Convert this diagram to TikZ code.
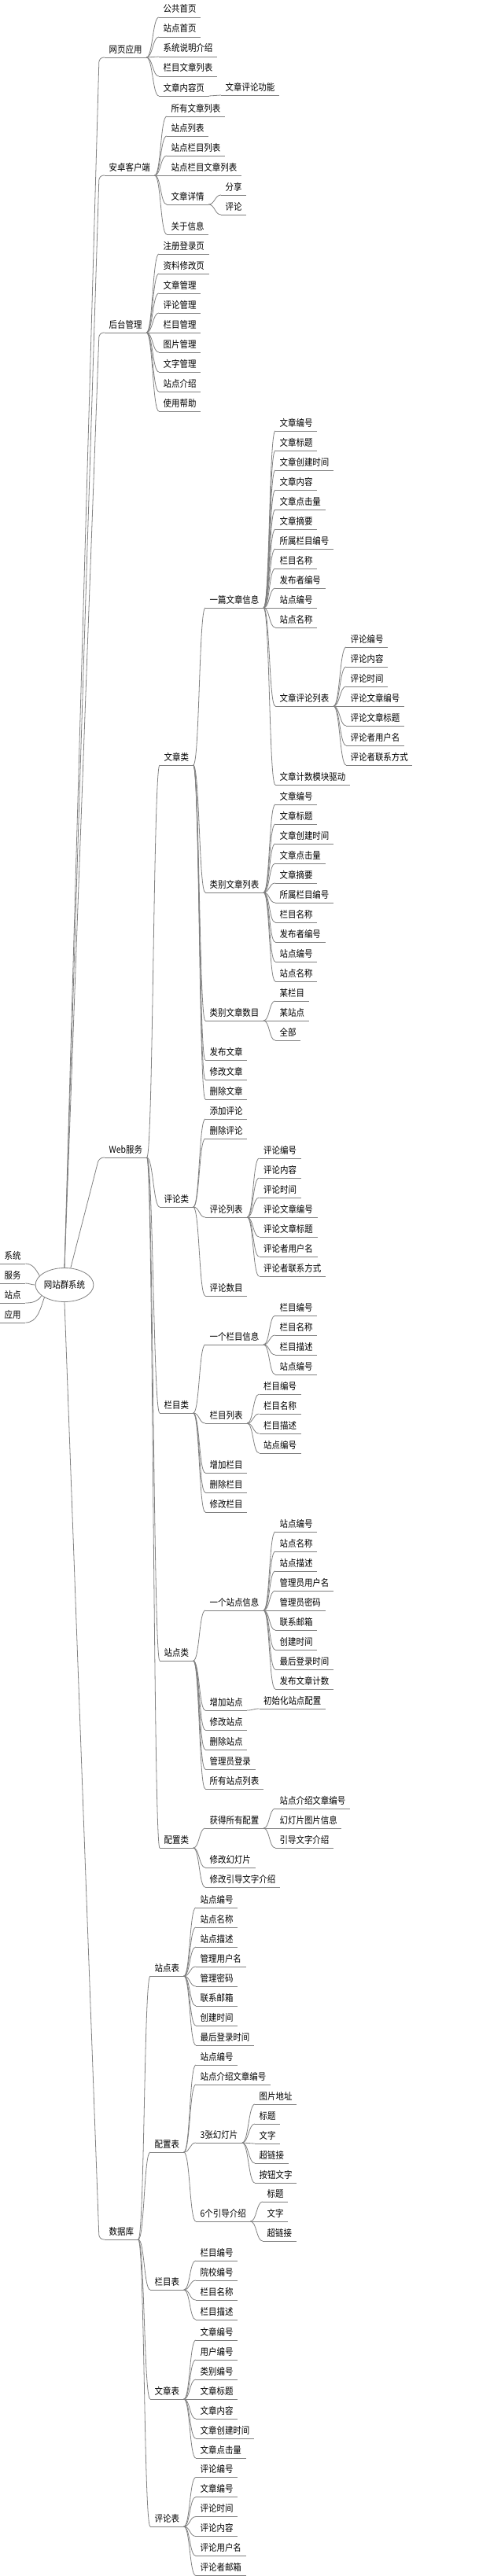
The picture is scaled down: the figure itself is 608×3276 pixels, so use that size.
\documentclass[tikz,border=0pt]{standalone}
\usepackage{fontspec}
\usepackage{tikz}
\usetikzlibrary{shapes.geometric}
\newfontfamily\cjk{Noto Sans CJK SC}[FakeStretch=0.87]

\begin{document}
\begin{tikzpicture}[x=1pt, y=1pt,
    every node/.style={font=\cjk\fontsize{12}{14}\selectfont},
    link/.style={draw=black!50, line width=0.8pt},
    item/.style={anchor=south west, inner xsep=5.5pt, inner ysep=5.8pt, text depth=0pt,
        append after command={(\tikzlastnode.south west) edge[link] (\tikzlastnode.south east)}}]
    \useasboundingbox (0,0) rectangle (608,-3276);

    % Root
    \node[ellipse, draw=black!50, line width=0.8pt, minimum width=67pt, minimum height=43pt, inner sep=0pt] (root) at (82,-1634) {网站群系统};

    % Left labels
    \foreach \t/\n/\y in {系统/xt/-1607, 服务/fw/-1632, 站点/zd/-1657, 应用/yy/-1682}
        \node[item] (\n) at (0,\y) {\t};
    \draw[link] (xt.south east) to[out=0, in=120] (root.160);
    \draw[link] (fw.south east) to[out=0, in=180] (root.west);
    \draw[link] (zd.south east) to[out=0, in=240] (root.205);
    \draw[link] (yy.south east) to[out=0, in=250] (root.212);

    % Main branches
    \node[item] (wy) at (133,-73) {网页应用};
    \node[item] (az) at (133,-223) {安卓客户端};
    \node[item] (ht) at (133,-423) {后台管理};
    \node[item] (web) at (133,-1472) {Web服务};
    \node[item] (db) at (133,-2848) {数据库};
    \foreach \n in {wy,az,ht}
        \draw[link, rounded corners=6pt] (root.north) -- ([xshift=-7pt]\n.south west) -- (\n.south west);
    \draw[link, rounded corners=6pt] (root.70) -- ([xshift=-7pt]web.south west) -- (web.south west);
    \draw[link, rounded corners=6pt] (root.south) -- ([xshift=-7pt]db.south west) -- (db.south west);

    % Web pages
    \foreach \t [count=\i] in {公共首页,站点首页,系统说明介绍,栏目文章列表,文章内容页}
        \node[item] (wy\i) at (202,{-22-25*(\i-1)}) {\t};
    \node[item] (wy5a) at (281,-121) {文章评论功能};
    \foreach \i in {1,...,5}
        \draw[link] (wy.south east) .. controls +(8,0) and +(-8,0) .. (wy\i.south west);
    \draw[link] (wy5.south east) .. controls +(8,0) and +(-8,0) .. (wy5a.south west);

    % Android client
    \foreach \t [count=\i] in {所有文章列表,站点列表,站点栏目列表,站点栏目文章列表}
        \node[item] (az\i) at (212,{-148-25*(\i-1)}) {\t};
    \node[item] (az5) at (212,-260) {文章详情};
    \node[item] (az6) at (212,-298) {关于信息};
    \node[item] (az5a) at (281,-248) {分享};
    \node[item] (az5b) at (281,-273) {评论};
    \foreach \i in {1,...,6}
        \draw[link] (az.south east) .. controls +(8,0) and +(-8,0) .. (az\i.south west);
    \foreach \c in {az5a,az5b}
        \draw[link] (az5.south east) .. controls +(8,0) and +(-8,0) .. (\c.south west);

    % Back office
    \foreach \t [count=\i] in {注册登录页,资料修改页,文章管理,评论管理,栏目管理,图片管理,文字管理,站点介绍,使用帮助}
        \node[item] (ht\i) at (202,{-323-25*(\i-1)}) {\t};
    \foreach \i in {1,...,9}
        \draw[link] (ht.south east) .. controls +(8,0) and +(-8,0) .. (ht\i.south west);

    % Web service classes
    \node[item] (wz) at (203,-973) {文章类};
    \node[item] (wp) at (203,-1535) {评论类};
    \node[item] (wl) at (203,-1797) {栏目类};
    \node[item] (ws) at (203,-2112) {站点类};
    \node[item] (wc) at (203,-2350) {配置类};
    \foreach \c in {wz,wp,wl,ws,wc}
        \draw[link] (web.south east) .. controls +(8,0) and +(-8,0) .. (\c.south west);

    % Article class
    \node[item] (wz1) at (261,-773) {一篇文章信息};
    \node[item] (wz2) at (261,-1135) {类别文章列表};
    \node[item] (wz3) at (261,-1298) {类别文章数目};
    \node[item] (wz4) at (261,-1348) {发布文章};
    \node[item] (wz5) at (261,-1373) {修改文章};
    \node[item] (wz6) at (261,-1398) {删除文章};
    \foreach \i in {1,...,6}
        \draw[link] (wz.south east) .. controls +(8,0) and +(-8,0) .. (wz\i.south west);

    \foreach \t [count=\i] in {文章编号,文章标题,文章创建时间,文章内容,文章点击量,文章摘要,所属栏目编号,栏目名称,发布者编号,站点编号,站点名称}
        \node[item] (za\i) at (350,{-548-25*(\i-1)}) {\t};
    \node[item] (za12) at (350,-898) {文章评论列表};
    \node[item] (za13) at (350,-998) {文章计数模块驱动};
    \foreach \i in {1,...,13}
        \draw[link] (wz1.south east) .. controls +(8,0) and +(-8,0) .. (za\i.south west);

    \foreach \t [count=\i] in {评论编号,评论内容,评论时间,评论文章编号,评论文章标题,评论者用户名,评论者联系方式}
        \node[item] (zc\i) at (440,{-823-25*(\i-1)}) {\t};
    \foreach \i in {1,...,7}
        \draw[link] (za12.south east) .. controls +(8,0) and +(-8,0) .. (zc\i.south west);

    \foreach \t [count=\i] in {文章编号,文章标题,文章创建时间,文章点击量,文章摘要,所属栏目编号,栏目名称,发布者编号,站点编号,站点名称}
        \node[item] (zb\i) at (350,{-1023-25*(\i-1)}) {\t};
    \foreach \i in {1,...,10}
        \draw[link] (wz2.south east) .. controls +(8,0) and +(-8,0) .. (zb\i.south west);

    \foreach \t [count=\i] in {某栏目,某站点,全部}
        \node[item] (zn\i) at (350,{-1273-25*(\i-1)}) {\t};
    \foreach \i in {1,...,3}
        \draw[link] (wz3.south east) .. controls +(8,0) and +(-8,0) .. (zn\i.south west);

    % Comment class
    \node[item] (wp1) at (261,-1423) {添加评论};
    \node[item] (wp2) at (261,-1448) {删除评论};
    \node[item] (wp3) at (261,-1548) {评论列表};
    \node[item] (wp4) at (261,-1648) {评论数目};
    \foreach \i in {1,...,4}
        \draw[link] (wp.south east) .. controls +(8,0) and +(-8,0) .. (wp\i.south west);
    \foreach \t [count=\i] in {评论编号,评论内容,评论时间,评论文章编号,评论文章标题,评论者用户名,评论者联系方式}
        \node[item] (pc\i) at (329.5,{-1473-25*(\i-1)}) {\t};
    \foreach \i in {1,...,7}
        \draw[link] (wp3.south east) .. controls +(8,0) and +(-8,0) .. (pc\i.south west);

    % Column class
    \node[item] (wl1) at (261,-1710) {一个栏目信息};
    \node[item] (wl2) at (261,-1810) {栏目列表};
    \node[item] (wl3) at (261,-1873) {增加栏目};
    \node[item] (wl4) at (261,-1898) {删除栏目};
    \node[item] (wl5) at (261,-1923) {修改栏目};
    \foreach \i in {1,...,5}
        \draw[link] (wl.south east) .. controls +(8,0) and +(-8,0) .. (wl\i.south west);
    \foreach \t [count=\i] in {栏目编号,栏目名称,栏目描述,站点编号} {
        \node[item] (la\i) at (350,{-1673-25*(\i-1)}) {\t};
        \node[item] (lb\i) at (329.5,{-1773-25*(\i-1)}) {\t};
    }
    \foreach \i in {1,...,4} {
        \draw[link] (wl1.south east) .. controls +(8,0) and +(-8,0) .. (la\i.south west);
        \draw[link] (wl2.south east) .. controls +(8,0) and +(-8,0) .. (lb\i.south west);
    }

    % Site class
    \node[item] (ws1) at (261,-2048) {一个站点信息};
    \node[item] (ws2) at (261,-2175) {增加站点};
    \node[item] (ws3) at (261,-2200) {修改站点};
    \node[item] (ws4) at (261,-2225) {删除站点};
    \node[item] (ws5) at (261,-2250) {管理员登录};
    \node[item] (ws6) at (261,-2275) {所有站点列表};
    \foreach \i in {1,...,6}
        \draw[link] (ws.south east) .. controls +(8,0) and +(-8,0) .. (ws\i.south west);
    \foreach \t [count=\i] in {站点编号,站点名称,站点描述,管理员用户名,管理员密码,联系邮箱,创建时间,最后登录时间,发布文章计数}
        \node[item] (sa\i) at (350,{-1948-25*(\i-1)}) {\t};
    \foreach \i in {1,...,9}
        \draw[link] (ws1.south east) .. controls +(8,0) and +(-8,0) .. (sa\i.south west);
    \node[item] (sb1) at (329.5,-2173) {初始化站点配置};
    \draw[link] (ws2.south east) .. controls +(8,0) and +(-8,0) .. (sb1.south west);

    % Config class
    \node[item] (wc1) at (261,-2325) {获得所有配置};
    \node[item] (wc2) at (261,-2375) {修改幻灯片};
    \node[item] (wc3) at (261,-2400) {修改引导文字介绍};
    \foreach \i in {1,...,3}
        \draw[link] (wc.south east) .. controls +(8,0) and +(-8,0) .. (wc\i.south west);
    \foreach \t [count=\i] in {站点介绍文章编号,幻灯片图片信息,引导文字介绍}
        \node[item] (ca\i) at (350,{-2300-25*(\i-1)}) {\t};
    \foreach \i in {1,...,3}
        \draw[link] (wc1.south east) .. controls +(8,0) and +(-8,0) .. (ca\i.south west);

    % Database tables
    \node[item] (db1) at (191,-2513) {站点表};
    \node[item] (db2) at (191,-2737) {配置表};
    \node[item] (db3) at (191,-2912) {栏目表};
    \node[item] (db4) at (191,-3051) {文章表};
    \node[item] (db5) at (191,-3213) {评论表};
    \foreach \i in {1,...,5}
        \draw[link] (db.south east) .. controls +(8,0) and +(-8,0) .. (db\i.south west);

    \foreach \t [count=\i] in {站点编号,站点名称,站点描述,管理用户名,管理密码,联系邮箱,创建时间,最后登录时间}
        \node[item] (ta\i) at (249,{-2426-25*(\i-1)}) {\t};
    \foreach \i in {1,...,8}
        \draw[link] (db1.south east) .. controls +(8,0) and +(-8,0) .. (ta\i.south west);

    \node[item] (tb1) at (249,-2626) {站点编号};
    \node[item] (tb2) at (249,-2651) {站点介绍文章编号};
    \node[item] (tb3) at (249,-2725) {3张幻灯片};
    \node[item] (tb4) at (249,-2825) {6个引导介绍};
    \foreach \i in {1,...,4}
        \draw[link] (db2.south east) .. controls +(8,0) and +(-8,0) .. (tb\i.south west);
    \foreach \t [count=\i] in {图片地址,标题,文字,超链接,按钮文字}
        \node[item] (tc\i) at (324,{-2676-25*(\i-1)}) {\t};
    \foreach \i in {1,...,5}
        \draw[link] (tb3.south east) .. controls +(8,0) and +(-8,0) .. (tc\i.south west);
    \foreach \t [count=\i] in {标题,文字,超链接}
        \node[item] (td\i) at (334,{-2800-25*(\i-1)}) {\t};
    \foreach \i in {1,...,3}
        \draw[link] (tb4.south east) .. controls +(8,0) and +(-8,0) .. (td\i.south west);

    \foreach \t [count=\i] in {栏目编号,院校编号,栏目名称,栏目描述}
        \node[item] (te\i) at (249,{-2875-25*(\i-1)}) {\t};
    \foreach \i in {1,...,4}
        \draw[link] (db3.south east) .. controls +(8,0) and +(-8,0) .. (te\i.south west);

    \foreach \t [count=\i] in {文章编号,用户编号,类别编号,文章标题,文章内容,文章创建时间,文章点击量}
        \node[item] (tf\i) at (249,{-2976-25*(\i-1)}) {\t};
    \foreach \i in {1,...,7}
        \draw[link] (db4.south east) .. controls +(8,0) and +(-8,0) .. (tf\i.south west);

    \foreach \t [count=\i] in {评论编号,文章编号,评论时间,评论内容,评论用户名,评论者邮箱}
        \node[item] (tg\i) at (249,{-3150.5-25*(\i-1)}) {\t};
    \foreach \i in {1,...,6}
        \draw[link] (db5.south east) .. controls +(8,0) and +(-8,0) .. (tg\i.south west);
\end{tikzpicture}
\end{document}
